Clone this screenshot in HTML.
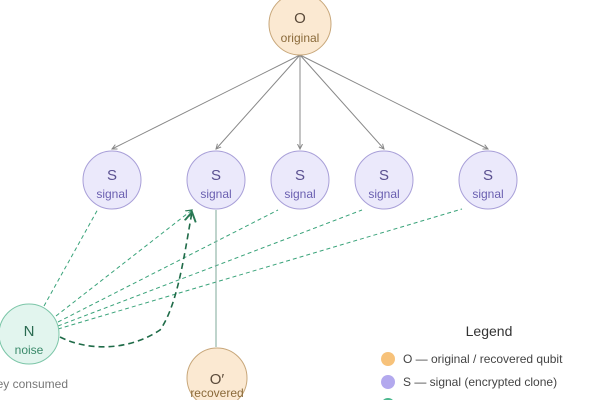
<!DOCTYPE html>
<html><head><meta charset="utf-8"><style>
body{margin:0;background:#fff;}
svg{display:block;font-family:"Liberation Sans","DejaVu Sans",sans-serif;}
</style></head><body>
<svg width="600" height="400" viewBox="0 0 600 400">
<defs>
<marker id="ag" markerWidth="6" markerHeight="6" refX="5" refY="3" orient="auto"><path d="M0,0.5 L5,3 L0,5.5" fill="none" stroke="#888" stroke-width="1"/></marker>
<marker id="an" markerWidth="8" markerHeight="8" refX="6" refY="4" orient="auto"><path d="M0,0.5 L6,4 L0,7.5" fill="none" stroke="#2a7a55" stroke-width="1.2"/></marker>
</defs>
<g stroke="#888" stroke-width="1" fill="none" marker-end="url(#ag)">
<line x1="300" y1="55" x2="112" y2="149"/>
<line x1="300" y1="55" x2="216" y2="149"/>
<line x1="300" y1="55" x2="300" y2="149"/>
<line x1="300" y1="55" x2="384" y2="149"/>
<line x1="300" y1="55" x2="488" y2="149"/>
</g>
<g stroke="#3aa37a" stroke-width="1" stroke-dasharray="4,3" fill="none">
<line x1="44" y1="306" x2="98" y2="209"/>
<line x1="56" y1="316" x2="192" y2="210" marker-end="url(#an)"/>
<line x1="58" y1="322" x2="278" y2="210"/>
<line x1="58" y1="326" x2="362" y2="210"/>
<line x1="58" y1="329" x2="462" y2="209"/>
</g>
<path d="M60,337 C90,352 130,350 160,330 C178,305 185,250 192,212" stroke="#1f6b48" stroke-width="1.6" stroke-dasharray="6,4" fill="none" marker-end="url(#an)"/>
<line x1="216" y1="210" x2="216" y2="347" stroke="#7fa89a" stroke-width="1"/>
<g stroke-width="1">
<circle cx="300" cy="24" r="31" fill="#fbe9d2" stroke="#c8a77a"/>
<circle cx="217" cy="378" r="30" fill="#fbe9d2" stroke="#c8a77a"/>
<g fill="#ebe9fb" stroke="#a89fd8">
<circle cx="112" cy="180" r="29"/><circle cx="216" cy="180" r="29"/><circle cx="300" cy="180" r="29"/><circle cx="384" cy="180" r="29"/><circle cx="488" cy="180" r="29"/>
</g>
<circle cx="29" cy="334" r="30" fill="#e2f5ee" stroke="#7cc6a8"/>
</g>
<g text-anchor="middle">
<text x="300" y="23" font-size="15" fill="#5a4a3a">O</text>
<text x="300" y="42" font-size="12" fill="#8a6a3a">original</text>
<text x="217" y="384" font-size="15" fill="#5a4a3a">O′</text>
<text x="217" y="397" font-size="12" fill="#8a6a3a">recovered</text>
<g fill="#5a5090"><text x="112" y="180" font-size="15">S</text><text x="216" y="180" font-size="15">S</text><text x="300" y="180" font-size="15">S</text><text x="384" y="180" font-size="15">S</text><text x="488" y="180" font-size="15">S</text></g>
<g fill="#6a5fb0" font-size="12"><text x="112" y="198">signal</text><text x="216" y="198">signal</text><text x="300" y="198">signal</text><text x="384" y="198">signal</text><text x="488" y="198">signal</text></g>
<text x="29" y="336" font-size="15" fill="#2a6a50">N</text>
<text x="29" y="354" font-size="12" fill="#3a8a6a">noise</text>
<text x="489" y="336" font-size="14" fill="#333">Legend</text>
</g>
<text x="68" y="388" font-size="12" fill="#777" text-anchor="end">key consumed</text>
<circle cx="388" cy="359" r="7" fill="#f7c27a"/>
<circle cx="388" cy="382" r="7" fill="#b3a9ee"/>
<circle cx="388" cy="405" r="7" fill="#4cb88f"/>
<text x="403" y="363" font-size="12" fill="#444">O — original / recovered qubit</text>
<text x="403" y="386" font-size="12" fill="#444">S — signal (encrypted clone)</text>
</svg>
</body></html>
